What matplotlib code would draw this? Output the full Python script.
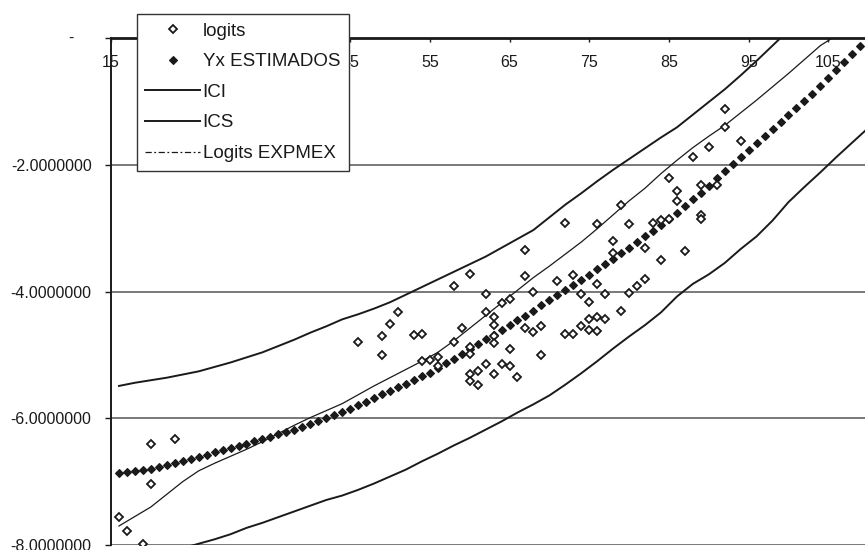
import matplotlib
matplotlib.use("Agg")
import matplotlib.pyplot as plt
from matplotlib.lines import Line2D
from matplotlib.ticker import FixedLocator, FuncFormatter

plt.rcParams['font.family'] = ['Liberation Sans', 'DejaVu Sans']

# ---------------- data ----------------
# observed logits (age, value)
logit_age = [16, 17, 19, 20, 20, 23,
             46, 49, 49, 50, 51, 53, 54, 54, 55, 56, 56,
             58, 58, 59, 60, 60, 60, 60, 60, 61, 61,
             62, 62, 62, 63, 63, 63, 63, 63, 64, 64, 65, 65, 65, 66,
             67, 67, 67, 68, 68, 69, 69, 71, 72, 72, 73, 73, 74, 74,
             75, 75, 75, 76, 76, 76, 76, 77, 77, 78, 78, 79, 79, 80, 80,
             81, 82, 82, 83, 84, 84, 85, 85, 86, 86, 87, 88,
             89, 89, 89, 90, 91, 92, 92, 94]
logit_val = [-7.56, -7.78, -7.99, -6.40, -7.03, -6.32,
             -4.79, -4.71, -5.00, -4.52, -4.33, -4.68, -4.67, -5.09, -5.08, -5.04, -5.18,
             -3.91, -4.79, -4.57, -3.72, -4.88, -4.98, -5.30, -5.41, -5.26, -5.47,
             -4.04, -4.33, -5.14, -4.41, -4.53, -4.71, -4.82, -5.30, -4.18, -5.14, -4.12, -4.91, -5.17, -5.35,
             -3.34, -3.75, -4.57, -4.00, -4.64, -4.54, -5.00, -3.83, -2.92, -4.67, -3.74, -4.67, -4.04, -4.54,
             -4.16, -4.44, -4.60, -2.94, -3.88, -4.40, -4.63, -4.04, -4.44, -3.20, -3.39, -2.63, -4.30, -2.94, -4.03,
             -3.91, -3.31, -3.80, -2.92, -2.87, -3.50, -2.86, -2.21, -2.41, -2.57, -3.36, -1.88,
             -2.32, -2.79, -2.85, -1.72, -2.32, -1.12, -1.40, -1.62]

# fitted values (Yx ESTIMADOS), ages 16..109
yx_age = list(range(16, 110))
yx_val = [-6.86, -6.845, -6.83, -6.815, -6.80, -6.77, -6.74, -6.70, -6.67, -6.64,
          -6.61, -6.575, -6.54, -6.505, -6.47, -6.435, -6.40, -6.365, -6.33, -6.29,
          -6.255, -6.215, -6.18, -6.135, -6.09, -6.04, -5.995, -5.945, -5.90, -5.85,
          -5.795, -5.74, -5.68, -5.625, -5.57, -5.51, -5.455, -5.40, -5.34, -5.28,
          -5.21, -5.135, -5.06, -4.98, -4.905, -4.83, -4.755, -4.68, -4.605, -4.53,
          -4.455, -4.38, -4.30, -4.22, -4.14, -4.06, -3.98, -3.90, -3.82, -3.735,
          -3.65, -3.565, -3.48, -3.395, -3.31, -3.22, -3.13, -3.04, -2.95, -2.86,
          -2.755, -2.65, -2.545, -2.44, -2.33, -2.215, -2.10, -1.99, -1.88, -1.77,
          -1.66, -1.55, -1.44, -1.33, -1.22, -1.105, -0.99, -0.88, -0.755, -0.635,
          -0.51, -0.385, -0.255, -0.13]

# ICI (upper band)
ici_age = [16, 18, 20, 22, 24, 26, 28, 30, 32, 34, 36, 38, 40, 42, 44, 46, 48, 50,
           52, 54, 56, 58, 60, 62, 64, 66, 68, 70, 72, 74, 76, 78, 80, 82, 84, 86,
           88, 90, 92, 94, 96, 98, 99]
ici_val = [-5.49, -5.44, -5.40, -5.36, -5.31, -5.26, -5.19, -5.12, -5.04, -4.96,
           -4.86, -4.76, -4.65, -4.55, -4.44, -4.36, -4.27, -4.17, -4.05, -3.93,
           -3.81, -3.69, -3.57, -3.45, -3.31, -3.17, -3.03, -2.83, -2.63, -2.45,
           -2.26, -2.08, -1.91, -1.74, -1.57, -1.41, -1.21, -1.01, -0.81, -0.59,
           -0.36, -0.12, 0.0]

# ICS (lower band)
ics_age = [22, 24, 26, 28, 30, 32, 34, 36, 38, 40, 42, 44, 46, 48, 50, 52, 54, 56,
           58, 60, 62, 64, 66, 68, 70, 72, 74, 76, 78, 80, 82, 84, 86, 88, 90, 92,
           94, 96, 98, 100, 102, 104, 106, 108, 110]
ics_val = [-8.13, -8.05, -7.98, -7.91, -7.83, -7.73, -7.65, -7.56, -7.47, -7.38,
           -7.29, -7.22, -7.13, -7.03, -6.92, -6.81, -6.68, -6.56, -6.43, -6.31,
           -6.18, -6.05, -5.91, -5.78, -5.64, -5.47, -5.29, -5.10, -4.90, -4.71,
           -4.53, -4.33, -4.08, -3.88, -3.73, -3.55, -3.33, -3.13, -2.88, -2.59,
           -2.35, -2.12, -1.88, -1.65, -1.42]

# Logits EXPMEX
exp_age = [16, 18, 20, 22, 24, 26, 28, 30, 32, 34, 36, 38, 40, 42, 44, 46, 48, 50,
           52, 54, 56, 58, 60, 62, 64, 66, 68, 70, 72, 74, 76, 78, 80, 82, 84, 86,
           88, 90, 92, 94, 96, 98, 100, 102, 104, 105.5]
exp_val = [-7.70, -7.55, -7.40, -7.20, -7.00, -6.83, -6.71, -6.60, -6.49, -6.37,
           -6.24, -6.11, -5.99, -5.88, -5.77, -5.63, -5.49, -5.36, -5.23, -5.10,
           -4.96, -4.78, -4.58, -4.38, -4.18, -3.98, -3.78, -3.60, -3.41, -3.22,
           -3.01, -2.79, -2.57, -2.37, -2.14, -1.93, -1.73, -1.55, -1.38, -1.18,
           -0.98, -0.77, -0.56, -0.34, -0.12, 0.0]

x_ticks = [15, 25, 35, 45, 55, 65, 75, 85, 95, 105]
y_ticks = [0, -2, -4, -6, -8]
legend_labels = ['logits', 'Yx ESTIMADOS', 'ICI', 'ICS', 'Logits EXPMEX']

# ---------------- figure ----------------
W, H = 865, 550
fig = plt.figure(figsize=(W / 100, H / 100), dpi=100)
ax = fig.add_axes([111 / W, 1 - 545 / H, (W - 111) / W, (545 - 38) / H])
ax.set_xlim(15, 109.6)
ax.set_ylim(-8, 0)

ink = '#1a1a1a'
open_ms, open_mew = 3.6, 1.3
fill_ms = 3.8

ax.plot(ici_age, ici_val, color=ink, lw=1.4, zorder=3)
ax.plot(ics_age, ics_val, color=ink, lw=1.4, zorder=3)
ax.plot(exp_age, exp_val, color=ink, lw=0.9, zorder=3)
ax.plot(yx_age, yx_val, linestyle='none', marker='D', ms=fill_ms,
        mfc=ink, mec=ink, mew=0.8, zorder=4)
ax.plot(logit_age, logit_val, linestyle='none', marker='D', ms=open_ms,
        mfc='white', mec=ink, mew=open_mew, zorder=5)

# grid
for v in y_ticks[1:]:
    ax.axhline(v, color='#555555', lw=1.1, zorder=1)

# spines
for s in ['top', 'right']:
    ax.spines[s].set_visible(False)
ax.spines['bottom'].set_position(('data', 0))
ax.spines['bottom'].set_linewidth(2.0)
ax.spines['bottom'].set_color(ink)
ax.spines['bottom'].set_zorder(6)
ax.spines['left'].set_linewidth(1.4)
ax.spines['left'].set_color(ink)

ax.xaxis.set_major_locator(FixedLocator(x_ticks))
ax.yaxis.set_major_locator(FixedLocator(y_ticks))
ax.yaxis.set_major_formatter(FuncFormatter(lambda v, p: '' if v == 0 else f'{v:.7f}'))
ax.tick_params(axis='x', direction='out', length=3, width=1, color=ink,
               labelsize=11.5, pad=9, labelcolor=ink)
ax.tick_params(axis='y', direction='out', length=4, width=1, color=ink,
               labelsize=11.5, pad=10, labelcolor=ink)
ax.annotate('-', xy=(0, 0), xycoords=('axes fraction', 'data'),
            xytext=(-40, 0), textcoords='offset pixels', ha='center', va='center',
            fontsize=11.5, color=ink)

# legend
handles = [
    Line2D([], [], linestyle='none', marker='D', ms=open_ms, mfc='white', mec=ink, mew=open_mew),
    Line2D([], [], linestyle='none', marker='D', ms=fill_ms, mfc=ink, mec=ink, mew=0.8),
    Line2D([], [], color=ink, lw=1.4),
    Line2D([], [], color=ink, lw=1.4),
    Line2D([], [], color=ink, lw=0.9, linestyle=(0, (5, 2, 1.5, 2))),
]
leg = ax.legend(handles, legend_labels, loc='upper left',
                bbox_to_anchor=(137 / W, 1 - 14 / H), bbox_transform=fig.transFigure,
                borderaxespad=0, fontsize=13.5, frameon=True, fancybox=False,
                framealpha=1, edgecolor='#333333', handlelength=2.9,
                handletextpad=0.15, labelspacing=0.72, borderpad=0.45)
leg.get_frame().set_linewidth(1.0)
leg.set_zorder(10)
for t in leg.get_texts():
    t.set_color(ink)

fig.savefig('out.png', dpi=100, facecolor='white')
